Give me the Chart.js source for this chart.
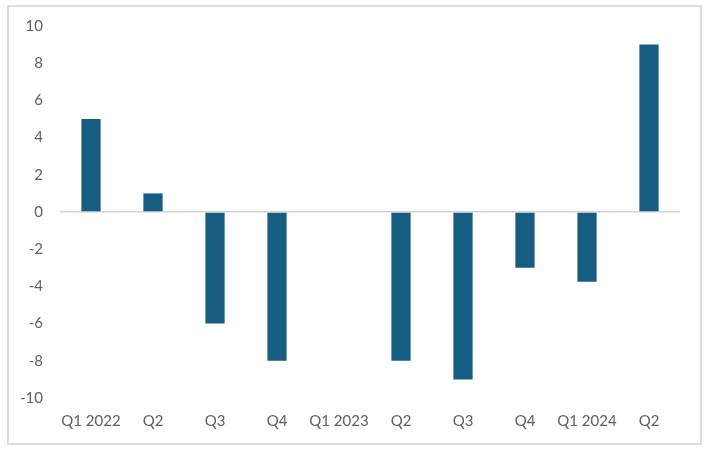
<!DOCTYPE html>
<html>
<head>
<meta charset="utf-8">
<script src="https://cdn.jsdelivr.net/npm/chart.js@4"></script>
<style>
  html, body { margin: 0; padding: 0; background: #fff; }
  #frame { position: absolute; left: 7px; top: 5px; width: 691px; height: 436px; border: 2px solid #dcdcdc; }
  #chart { position: absolute; left: 0; top: 0; }
</style>
</head>
<body>
<div id="frame"></div>
<canvas id="chart" width="708" height="451"></canvas>
<script>
  const quarters = ['Q1 2022', 'Q2', 'Q3', 'Q4', 'Q1 2023', 'Q2', 'Q3', 'Q4', 'Q1 2024', 'Q2'];
  const values = [5, 1, -6, -8, 0, -8, -9, -3, -3.75, 9];
  const yTicks = [-10, -8, -6, -4, -2, 0, 2, 4, 6, 8, 10];

  const labelFont = {family: 'Lato, "Open Sans", sans-serif', size: 15};
  const labelColor = '#5f5f5f';

  new Chart(document.getElementById('chart'), {
    type: 'bar',
    data: {
      labels: quarters,
      datasets: [{
        data: values,
        backgroundColor: '#175d82',
        borderWidth: 0,
        categoryPercentage: 1,
        barPercentage: 0.31
      }]
    },
    options: {
      responsive: false,
      animation: false,
      layout: {padding: {top: 25, right: 28, left: 0, bottom: 0}},
      plugins: {legend: {display: false}, tooltip: {enabled: false}},
      scales: {
        x: {
          grid: {display: false, drawTicks: false},
          border: {display: false},
          ticks: {color: labelColor, font: labelFont, padding: 14, maxRotation: 0, autoSkip: false},
          afterFit: function(scale) { scale.height = 53; }
        },
        y: {
          min: -10,
          max: 10,
          afterBuildTicks: function(scale) { scale.ticks = yTicks.map(v => ({value: v})); },
          grid: {
            drawTicks: false,
            lineWidth: 1.5,
            color: function(ctx) { return ctx.tick && ctx.tick.value === 0 ? '#d4d4d4' : 'rgba(0,0,0,0)'; }
          },
          border: {display: false},
          ticks: {color: labelColor, font: labelFont, padding: 17},
          afterFit: function(scale) { scale.width = 60; }
        }
      }
    }
  });
</script>
</body>
</html>
